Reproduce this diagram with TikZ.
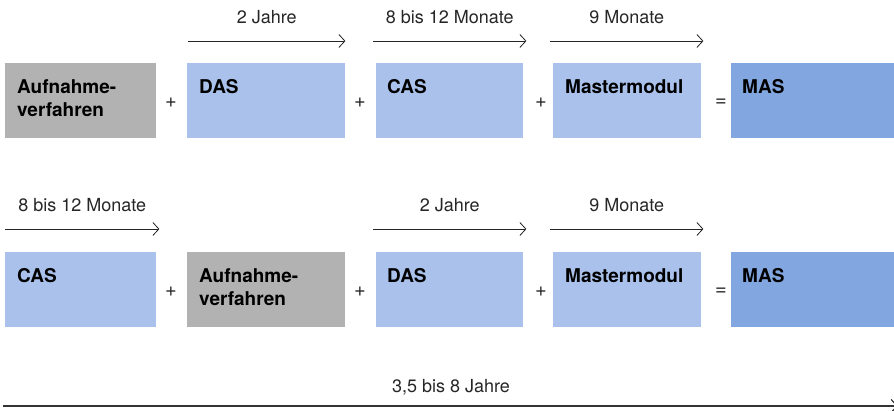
\documentclass[tikz,border=0pt]{standalone}
\usepackage{fontspec}
\setmainfont{TeX Gyre Heros}
\usetikzlibrary{arrows.meta}

\definecolor{greybox}{HTML}{B2B2B2}
\definecolor{lightblue}{HTML}{A9C1EB}
\definecolor{darkblue}{HTML}{82A6E0}

\tikzset{
	box/.style={anchor=north west, minimum height=75pt, inner sep=0pt, draw=none},
	boxtext/.style={anchor=north west, inner sep=0pt, align=left, font=\fontsize{19}{23}\selectfont\bfseries, text=black},
	sign/.style={inner sep=0pt, font=\fontsize{20}{22}\selectfont, text=black!85},
	span/.style={line width=0.8pt, color=black!85, -{Straight Barb[length=6pt, width=13pt]}},
	spanlabel/.style={midway, anchor=base, yshift=17.5pt, inner sep=0pt, font=\fontsize{18}{22}\selectfont, text=black!85}
}

\begin{document}
\begin{tikzpicture}[x=1pt, y=-1pt]
		%%%%% START %%%%%
		\useasboundingbox (0, 0) rectangle (894, 411);
		
		% first row
		\node[box, fill=greybox, minimum width=151pt] (auf1) at (5, 63) {};
		\node[box, fill=lightblue, minimum width=158pt] (das1) at (187, 63) {};
		\node[box, fill=lightblue, minimum width=147pt] (cas1) at (376, 63) {};
		\node[box, fill=lightblue, minimum width=148pt] (mm1) at (553, 63) {};
		\node[box, fill=darkblue, minimum width=163pt] (mas1) at (731, 63) {};
		
		\node[boxtext] (auf1t) at ([shift={(12pt, -16pt)}]auf1.north west) {Aufnahme-\\verfahren};
		\node[boxtext] (das1t) at ([shift={(12pt, -16pt)}]das1.north west) {DAS};
		\node[boxtext] (cas1t) at ([shift={(11pt, -16pt)}]cas1.north west) {CAS};
		\node[boxtext] (mm1t) at ([shift={(12pt, -16pt)}]mm1.north west) {Mastermodul};
		\node[boxtext] (mas1t) at ([shift={(11pt, -16pt)}]mas1.north west) {MAS};
		
		\node[sign] (p11) at (171, 103) {+};
		\node[sign] (p12) at (360, 103) {+};
		\node[sign] (p13) at (541, 103) {+};
		\node[sign] (eq1) at (721, 103) {=};
		
		\draw[span] ([shift={(1pt, 22pt)}]das1.north west) -- ([shift={(0pt, 22pt)}]das1.north east) node[spanlabel] {2 Jahre};
		\draw[span] ([shift={(-3pt, 22pt)}]cas1.north west) -- ([shift={(3pt, 22pt)}]cas1.north east) node[spanlabel] {8 bis 12 Monate};
		\draw[span] ([shift={(-3pt, 22pt)}]mm1.north west) -- ([shift={(2pt, 22pt)}]mm1.north east) node[spanlabel] {9 Monate};
		
		% second row
		\node[box, fill=lightblue, minimum width=151pt] (cas2) at (5, 252) {};
		\node[box, fill=greybox, minimum width=158pt] (auf2) at (187, 252) {};
		\node[box, fill=lightblue, minimum width=147pt] (das2) at (376, 252) {};
		\node[box, fill=lightblue, minimum width=148pt] (mm2) at (553, 252) {};
		\node[box, fill=darkblue, minimum width=163pt] (mas2) at (731, 252) {};
		
		\node[boxtext] (cas2t) at ([shift={(12pt, -16pt)}]cas2.north west) {CAS};
		\node[boxtext] (auf2t) at ([shift={(12pt, -16pt)}]auf2.north west) {Aufnahme-\\verfahren};
		\node[boxtext] (das2t) at ([shift={(11pt, -16pt)}]das2.north west) {DAS};
		\node[boxtext] (mm2t) at ([shift={(12pt, -16pt)}]mm2.north west) {Mastermodul};
		\node[boxtext] (mas2t) at ([shift={(11pt, -16pt)}]mas2.north west) {MAS};
		
		\node[sign] (p21) at (171, 292) {+};
		\node[sign] (p22) at (360, 292) {+};
		\node[sign] (p23) at (541, 292) {+};
		\node[sign] (eq2) at (721, 292) {=};
		
		\draw[span] ([shift={(0pt, 23pt)}]cas2.north west) -- ([shift={(3pt, 23pt)}]cas2.north east) node[spanlabel] {8 bis 12 Monate};
		\draw[span] ([shift={(-3pt, 23pt)}]das2.north west) -- ([shift={(3pt, 23pt)}]das2.north east) node[spanlabel] {2 Jahre};
		\draw[span] ([shift={(-3pt, 23pt)}]mm2.north west) -- ([shift={(2pt, 23pt)}]mm2.north east) node[spanlabel] {9 Monate};
		
		% total duration
		\coordinate (tstart) at (3, 406);
		\coordinate (tend) at (898, 406);
		\draw[span, line width=1.2pt, color=black!80] (tstart) -- (tend);
		\node[anchor=base, inner sep=0pt, font=\fontsize{18}{22}\selectfont, text=black!85] (total) at (451, 392.5) {3,5 bis 8 Jahre};
		
		%%%%% END %%%%%
	\end{tikzpicture}
\end{document}
